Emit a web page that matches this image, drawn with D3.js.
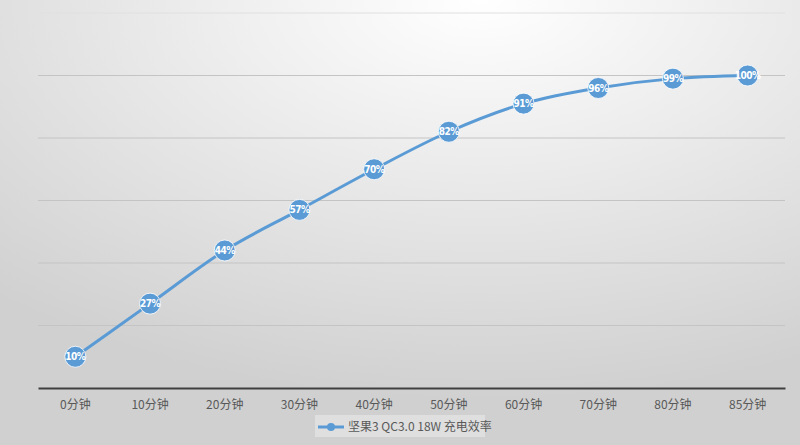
<!DOCTYPE html>
<html>
<meta charset="utf-8">
<script src="https://d3js.org/d3.v7.min.js"></script>
<style>
body { margin: 0; }
</style>
<body>
<div id="chart"></div>
<script>
// data
var categories = ["0分钟","10分钟","20分钟","30分钟","40分钟","50分钟","60分钟","70分钟","80分钟","85分钟"];
var values = [10, 27, 44, 57, 70, 82, 91, 96, 99, 100];
var yTicks = [0, 20, 40, 60, 80, 100, 120];
var seriesName = "坚果3 QC3.0 18W 充电效率";

var W = 800, H = 445;
var margin = {top: 13, right: 15, bottom: 57, left: 38};
var color = "#5b9bd5";
var font = "'Noto Sans CJK SC', 'Noto Sans', sans-serif";

var svg = d3.select("#chart").append("svg")
  .attr("width", W).attr("height", H);

var defs = svg.append("defs");
var grad = defs.append("radialGradient").attr("id", "bg")
  .attr("cx", "60%").attr("cy", "0%").attr("r", "90%");
grad.append("stop").attr("offset", "0%").attr("stop-color", "#ffffff");
grad.append("stop").attr("offset", "100%").attr("stop-color", "#d0d0d0");
svg.append("rect").attr("width", W).attr("height", H).attr("fill", "url(#bg)");

var x = d3.scaleBand().domain(categories).range([margin.left, W - margin.right]);
var y = d3.scaleLinear().domain([0, 120]).range([H - margin.bottom, margin.top]);

// gridlines
svg.selectAll("line.grid")
  .data(yTicks.slice(1))
  .enter().append("line")
    .attr("x1", margin.left).attr("x2", W - margin.right)
    .attr("y1", function(d){ return y(d); }).attr("y2", function(d){ return y(d); })
    .attr("stroke", function(d){ return d > 100 ? "#e0e0e0" : "#c4c4c4"; }).attr("stroke-width", 1);

// x axis
var xAxis = svg.append("g")
  .attr("transform", "translate(0," + y(0) + ")")
  .call(d3.axisBottom(x).tickSize(0).tickPadding(12));
xAxis.select(".domain").attr("stroke", "#404040").attr("stroke-width", 2);
xAxis.selectAll("text").attr("fill", "#595959").style("font-size", "12px").style("font-family", font);

var cx = function(d, i){ return x(categories[i]) + x.bandwidth() / 2; };

svg.append("path")
  .datum(values)
  .attr("fill", "none").attr("stroke", color).attr("stroke-width", 3)
  .attr("d", d3.line().curve(d3.curveMonotoneX)
    .x(cx).y(function(d){ return y(d); }));

var pts = svg.selectAll("g.pt").data(values).enter().append("g")
  .attr("transform", function(d, i){ return "translate(" + cx(d, i) + "," + y(d) + ")"; });
pts.append("circle").attr("r", 10.5).attr("fill", color).attr("stroke", "#fff").attr("stroke-width", 0.8);
pts.append("text")
  .attr("text-anchor", "middle").attr("dy", "0.35em")
  .attr("fill", "#fff").style("font-weight", "bold").style("font-size", "10px")
  .style("font-family", "'DejaVu Sans Condensed', sans-serif")
  .style("letter-spacing", "-0.5px")
  .text(function(d){ return d + "%"; });

// legend
var lg = svg.append("g").attr("transform", "translate(" + (W / 2) + ",427)");
lg.append("rect").attr("x", -85).attr("y", -12).attr("width", 170).attr("height", 22)
  .attr("fill", "#e6e6e6").attr("opacity", 0.7);
lg.append("line").attr("x1", -82).attr("x2", -56).attr("stroke", color).attr("stroke-width", 3);
lg.append("circle").attr("cx", -69).attr("r", 4).attr("fill", color);
lg.append("text").attr("x", -52).attr("dy", "0.35em")
  .attr("fill", "#595959").style("font-size", "12px").style("font-family", font)
  .text(seriesName);
</script>
</body>
</html>
